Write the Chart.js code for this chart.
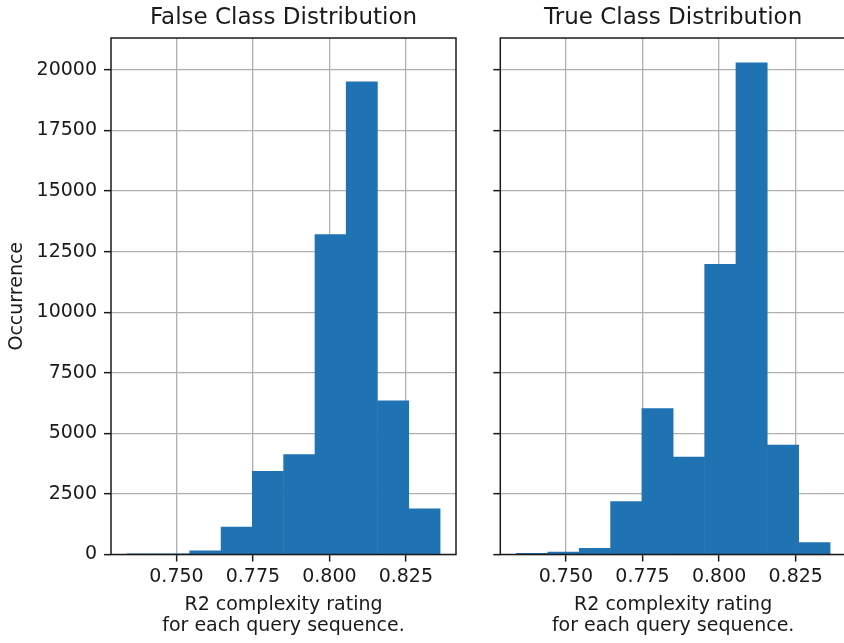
<!DOCTYPE html>
<html><head><meta charset="utf-8">
<script src="https://cdn.jsdelivr.net/npm/chart.js@4"></script>
<style>
html,body{margin:0;padding:0;background:#fff;overflow:hidden;width:844px;height:643px;}
canvas{position:absolute;top:0;}
</style></head><body>
<canvas id="c1" width="470" height="643" style="left:0px"></canvas>
<canvas id="c2" width="376" height="643" style="left:470px"></canvas>
<script>
// ---- data ----
const binEdges = [0.7339, 0.7441, 0.7543, 0.7646, 0.7748, 0.7850, 0.7953, 0.8055, 0.8157, 0.8260, 0.8362];
const falseCounts = [30, 20, 150, 1130, 3430, 4120, 13210, 19510, 6340, 1880];
const trueCounts = [50, 100, 255, 2180, 6020, 4025, 11980, 20300, 4520, 490];
const xTicks = [0.750, 0.775, 0.800, 0.825];
const yTicks = [0, 2500, 5000, 7500, 10000, 12500, 15000, 17500, 20000];
const titles = ['False Class Distribution', 'True Class Distribution'];
const xLabel = ['R2 complexity rating', 'for each query sequence.'];
const yLabel = 'Occurrence';

const FONT = 'DejaVu Sans';
const TXT = '#1a1a1a';
const BAR = '#1f73b2';

const frame = {
  id: 'frame',
  afterDraw(chart) {
    const {ctx, chartArea: a} = chart;
    ctx.save();
    ctx.strokeStyle = TXT;
    ctx.lineWidth = 1.5;
    ctx.strokeRect(a.left, a.top, a.right - a.left, a.bottom - a.top);
    ctx.restore();
  }
};

function makeChart(id, title, counts, showY, yWidth, padRight) {
  const data = counts.map((c, i) => ({x: (binEdges[i] + binEdges[i + 1]) / 2, y: c}));
  return new Chart(document.getElementById(id), {
    type: 'bar',
    data: {datasets: [{data, backgroundColor: BAR, borderWidth: 0, barPercentage: 1, categoryPercentage: 1}]},
    options: {
      responsive: false,
      animation: false,
      layout: {padding: {left: 0, right: padRight, top: 0, bottom: 0}},
      plugins: {
        legend: {display: false},
        tooltip: {enabled: false},
        title: {
          display: true, text: title, color: TXT, fullSize: false,
          font: {family: FONT, size: 23, weight: 'normal', lineHeight: 1.2},
          padding: {top: 4, bottom: 6.4}
        }
      },
      scales: {
        x: {
          type: 'linear', min: 0.7286, max: 0.8414, offset: false, z: 1,
          afterBuildTicks: s => { s.ticks = xTicks.map(v => ({value: v})); },
          afterFit: s => { s.height = 88.5; },
          grid: {color: '#b0b0b0', lineWidth: 1.3, tickColor: TXT, tickWidth: 1.5, tickLength: 7, offset: false},
          border: {display: false},
          ticks: {font: {family: FONT, size: 19}, color: TXT, padding: 4, maxRotation: 0, autoSkip: false,
                  callback: v => Number(v).toFixed(3)},
          title: {display: true, text: xLabel, color: TXT, font: {family: FONT, size: 19, lineHeight: 1.1},
                  padding: {top: 0, bottom: 6.5}}
        },
        y: {
          min: 0, max: 21320, z: 1,
          afterBuildTicks: s => { s.ticks = yTicks.map(v => ({value: v})); },
          afterFit: s => { s.width = yWidth; },
          grid: {color: '#b0b0b0', lineWidth: 1.3, tickColor: TXT, tickWidth: 1.5, tickLength: 7},
          border: {display: false},
          ticks: {display: showY, font: {family: FONT, size: 19}, color: TXT, padding: 7,
                  callback: v => String(v)},
          title: {display: showY, text: yLabel, color: TXT, font: {family: FONT, size: 19, lineHeight: 1.1},
                  padding: {top: 6.5, bottom: 0}}
        }
      }
    },
    plugins: [frame]
  });
}

makeChart('c1', titles[0], falseCounts, true, 111, 14);
makeChart('c2', titles[1], trueCounts, false, 30.3, 0);
</script>
</body></html>
